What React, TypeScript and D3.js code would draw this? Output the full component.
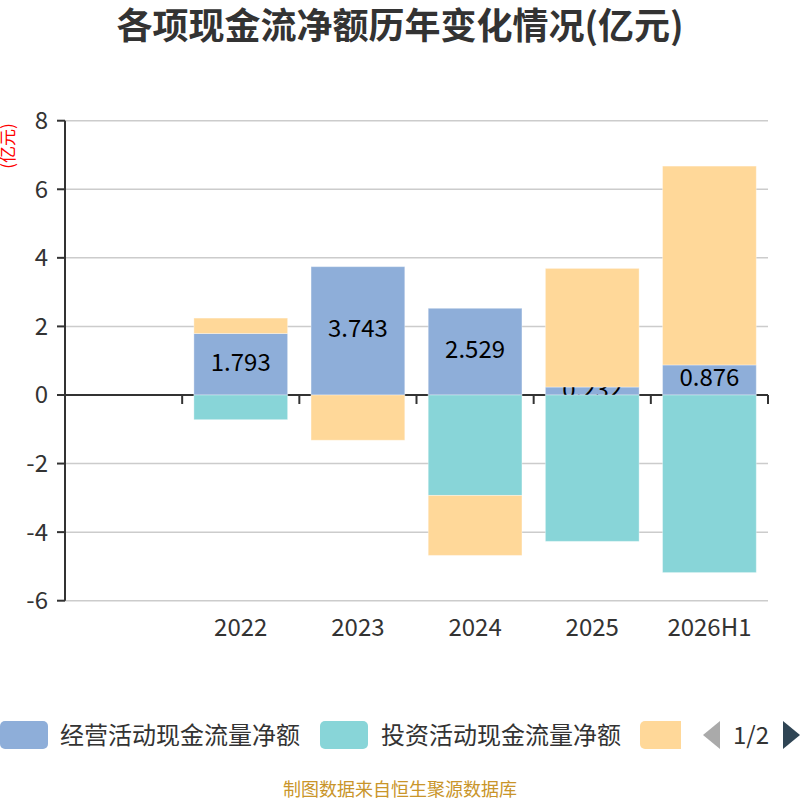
import * as d3 from 'd3'

const categories = ['', '2022', '2023', '2024', '2025', '2026H1']
const operating = [null, 1.793, 3.743, 2.529, 0.232, 0.876]
const investing = [null, -0.72, 0, -2.93, -4.27, -5.18]
const financing = [null, 0.45, -1.32, -1.75, 3.46, 5.8]
const yTicks = [-6, -4, -2, 0, 2, 4, 6, 8]
const seriesNames = ['经营活动现金流量净额', '投资活动现金流量净额', '筹资活动现金流量净额']
const colors = ['#8eaed9', '#88d5d8', '#ffd899']

const FONT = '"Noto Sans CJK SC", "Open Sans", sans-serif'

export default function App() {
  const width = 800
  const height = 800
  const left = 65
  const right = 768

  const x = d3.scaleBand<string>().domain(categories).range([left, right])
  const y = d3.scaleLinear().domain([-6, 8]).range([600.7, 120.7])
  const barW = x.bandwidth() * 0.8

  // stack positives and negatives separately, like echarts
  type Seg = { cat: string; y0: number; y1: number; series: number; value: number }
  const allSeries = [operating, investing, financing]
  const segs: Seg[] = []
  categories.forEach((cat, i) => {
    let pos = 0
    let neg = 0
    allSeries.forEach((s, si) => {
      const v = s[i]
      if (v == null || v === 0) return
      if (v > 0) {
        segs.push({ cat, y0: pos, y1: pos + v, series: si, value: v })
        pos += v
      } else {
        segs.push({ cat, y0: neg, y1: neg + v, series: si, value: v })
        neg += v
      }
    })
  })

  const rect = (d: Seg, k: number) => {
    const bx = (x(d.cat) as number) + (x.bandwidth() - barW) / 2
    const top = y(Math.max(d.y0, d.y1))
    const bot = y(Math.min(d.y0, d.y1))
    return (
      <rect key={'r' + d.series + '-' + k} x={bx} y={top} width={barW} height={bot - top}
        fill={colors[d.series]} stroke="rgba(255,255,255,0.35)" strokeWidth={1} />
    )
  }

  const zeroY = y(0)

  return (
    <svg width={width} height={height} style={{ position: 'absolute', left: 0, top: 0, background: '#fff' }}
      fontFamily={FONT}>
      <text x={400} y={39} textAnchor="middle" fontSize={36} fontWeight="bold" fill="#333">
        各项现金流净额历年变化情况(亿元)
      </text>

      {/* y axis name */}
      <text transform={`translate(14,146) rotate(-90)`} textAnchor="middle" fontSize={17} fill="#ff0000">
        (亿元)
      </text>

      {/* grid */}
      {yTicks.map((t) => (
        <g key={'g' + t}>
          {t !== 0 && <line x1={left} x2={right} y1={y(t)} y2={y(t)} stroke="#ccc" strokeWidth={1.5} />}
          <line x1={left - 8} x2={left} y1={y(t)} y2={y(t)} stroke="#333" strokeWidth={2} />
          <text x={48} y={y(t) - 2} textAnchor="end" dominantBaseline="central" fontSize={24} fill="#333">
            {t}
          </text>
        </g>
      ))}

      {/* x axis line and ticks */}
      <line x1={left} x2={right} y1={zeroY} y2={zeroY} stroke="#333" strokeWidth={2} />
      {categories.map((c, i) => (
        <line key={'t' + i} x1={(x(c) as number) + x.bandwidth()} x2={(x(c) as number) + x.bandwidth()}
          y1={zeroY} y2={zeroY + 9} stroke="#333" strokeWidth={2} />
      ))}
      <line x1={left} x2={left} y1={y(8)} y2={y(-6)} stroke="#333" strokeWidth={2} />

      {categories.map((c, i) => (
        <text key={'xl' + i} x={(x(c) as number) + x.bandwidth() / 2} y={625} textAnchor="middle"
          dominantBaseline="central" fontSize={24} fill="#333">
          {c}
        </text>
      ))}

      {/* operating bars + labels, then the rest over them */}
      {segs.filter((d) => d.series === 0).map(rect)}
      {segs.filter((d) => d.series === 0).map((d, k) => (
        <text key={'lb' + k} x={(x(d.cat) as number) + x.bandwidth() / 2} y={y((d.y0 + d.y1) / 2) - 4}
          textAnchor="middle" dominantBaseline="central" fontSize={24} fill="#000">
          {d.value.toFixed(3)}
        </text>
      ))}
      {segs.filter((d) => d.series !== 0).map(rect)}

      {/* legend */}
      <g fontSize={24} fill="#333">
        <rect x={0} y={721} width={48} height={28} rx={5} fill={colors[0]} />
        <text x={60} y={733} dominantBaseline="central">{seriesNames[0]}</text>
        <rect x={320} y={721} width={48} height={28} rx={5} fill={colors[1]} />
        <text x={381} y={733} dominantBaseline="central">{seriesNames[1]}</text>
        <svg x={0} y={700} width={681} height={60} overflow="hidden">
          <rect x={640} y={21} width={48} height={28} rx={5} fill={colors[2]} />
        </svg>
        <path d="M703,735 L720,721 L720,749 Z" fill="#aaa" />
        <text x={751} y={733} textAnchor="middle" dominantBaseline="central">1/2</text>
        <path d="M800,735 L783,721 L783,749 Z" fill="#2f4554" />
      </g>

      <text x={400} y={788} textAnchor="middle" dominantBaseline="central" fontSize={18} fill="#c9952a">
        制图数据来自恒生聚源数据库
      </text>
    </svg>
  )
}
